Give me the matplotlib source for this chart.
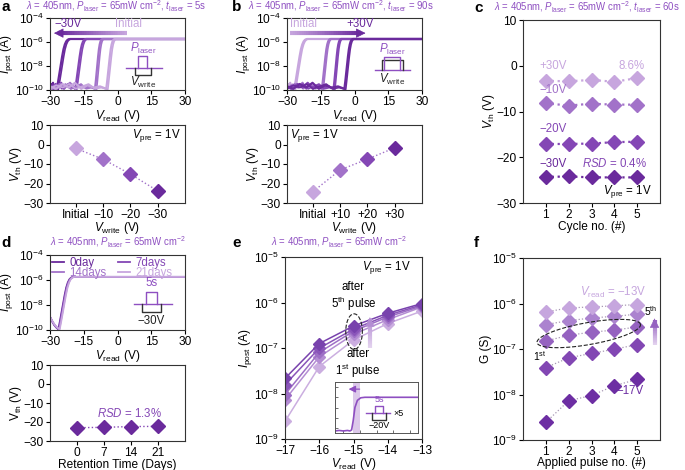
import numpy as np
import matplotlib
matplotlib.use('Agg')
import matplotlib.pyplot as plt
from matplotlib.collections import LineCollection
from matplotlib.colors import LinearSegmentedColormap
from matplotlib.ticker import NullLocator

plt.rcParams['font.family'] = ['Liberation Sans', 'DejaVu Sans']
plt.rcParams['mathtext.fontset'] = 'custom'
plt.rcParams['mathtext.rm'] = 'Liberation Sans'
plt.rcParams['mathtext.it'] = 'Liberation Sans:italic'
plt.rcParams['mathtext.bf'] = 'Liberation Sans:bold'

# colours, dark -> light
purples = ['#6a2a9c', '#8447b5', '#a272c9', '#c7a6de']
title_color = '#8e4fc1'
FS = 8.6    # tick / axis label size
FA = 8.3    # annotation size

# ---- data ----
# transfer curve shape (fraction of rise width, log10 current)
rise_dv = [0, 0.1, 0.2, 0.3, 0.4, 0.5, 0.6, 0.7, 0.8, 0.9, 1.0]
rise_logi = [-10.0, -9.3, -8.6, -7.9, -7.2, -6.6, -6.2, -5.95, -5.82, -5.76, -5.75]
floor_1 = [-9.7, -9.9, -9.5, -9.8, -9.4, -9.9, -9.6, -9.8, -9.7, -9.9]
floor_2 = [-9.9, -9.6, -9.8, -9.5, -9.9, -9.7, -9.5, -9.9, -9.8, -9.95]
floor_d = [-8.95, -9.3, -9.6, -9.8, -9.95]

# a: -30V, -20V, -10V, Initial
a_onsets = [-27.0, -18.8, -10.0, -5.0]
a_widths = [6.0, 5.0, 3.5, 4.0]
a_cats = ['Initial', '\u221210', '\u221220', '\u221230']
a_vth = [-2.0, -7.6, -15.2, -23.8]

# b: Initial, +10, +20, +30
b_onsets = [-26.8, -14.5, -9.3, -4.5]
b_widths = [6.0, 4.0, 3.5, 4.0]
b_cats = ['Initial', '+10', '+20', '+30']
b_vth = [-24.2, -13.0, -7.5, -1.7]

# c
c_cycles = [1, 2, 3, 4, 5]
c_p30 = [-3.3, -3.4, -3.1, -3.5, -2.7]
c_m10 = [-8.2, -8.7, -8.3, -8.5, -8.5]
c_m20 = [-17.1, -17.1, -17.0, -16.7, -16.6]
c_m30 = [-24.3, -24.2, -24.4, -24.4, -24.4]

# d
d_labels = ['0day', '7days', '14days', '21days']
d_onsets = [-26.3, -26.1, -25.9, -25.7]
d_days = [0, 7, 14, 21]
d_vth = [-23.0, -22.8, -22.4, -22.3]

# e / f : conductance (S) per Vread, pulses 1..5
vread = [-17, -16, -15, -14, -13]
pulses = [1, 2, 3, 4, 5]
g_m17 = [2.45e-9, 7.3e-9, 9.5e-9, 1.56e-8, 2.15e-8]
g_m16 = [3.9e-8, 6.4e-8, 8.0e-8, 9.9e-8, 1.25e-7]
g_m15 = [1.5e-7, 2.0e-7, 2.35e-7, 2.6e-7, 3.05e-7]
g_m14 = [3.45e-7, 4.2e-7, 4.8e-7, 5.25e-7, 5.8e-7]
g_m13 = [6.5e-7, 8.0e-7, 8.4e-7, 8.9e-7, 9.5e-7]

W, H = 685, 470
fig = plt.figure(figsize=(W / 100, H / 100), dpi=100)


def box(x0, x1, y0, y1):
    ax = fig.add_axes([x0 / W, 1 - y1 / H, (x1 - x0) / W, (y1 - y0) / H])
    for s in ax.spines.values():
        s.set_color('#333333')
        s.set_linewidth(0.8)
    ax.tick_params(direction='out', length=3, width=0.8, labelsize=FS, pad=1.5)
    return ax


def transfer(onset, width, floor):
    v_off = np.linspace(-30, onset, len(floor))
    v_on = onset + width * np.array(rise_dv[1:])
    v = np.concatenate([v_off, v_on, [30]])
    logi = np.concatenate([floor, rise_logi[1:], [rise_logi[-1]]])
    return v, 10 ** logi


def grad_arrow(ax, x0, y0, x1, y1, c0, c1, lw=3.0):
    n = 40
    t = np.linspace(0, 1, n + 1)
    xs = x0 + (x1 - x0) * t
    ys = y0 + (y1 - y0) * t
    segs = [[(xs[i], ys[i]), (xs[i + 1], ys[i + 1])] for i in range(n)]
    cmap = LinearSegmentedColormap.from_list('g', [c0, c1])
    lc = LineCollection(segs, colors=cmap(np.linspace(0, 1, n)), linewidths=lw,
                        transform=ax.transAxes, capstyle='butt')
    ax.add_collection(lc)
    ax.annotate('', xy=(x1 + (x1 - x0) * 0.06, y1 + (y1 - y0) * 0.06), xytext=(x1, y1),
                xycoords='axes fraction', textcoords='axes fraction',
                arrowprops=dict(arrowstyle='-|>,head_width=0.3,head_length=0.6',
                                color=c1, lw=0.5, shrinkA=0, shrinkB=0))


def pulse(ax, x0, x1, yb, up, dn, ytop, ybot):
    ax.plot([x0, x1], [yb, yb], color=title_color, lw=1.0, transform=ax.transAxes)
    ax.plot([up[0], up[0], up[1], up[1]], [yb, ytop, ytop, yb], color=title_color,
            lw=1.0, transform=ax.transAxes)
    ax.plot([dn[0], dn[0], dn[1], dn[1]], [yb, ybot, ybot, yb], color='#333333',
            lw=1.0, transform=ax.transAxes)


def ellipse(ax, cx, cy, a, b, ang, wpx, hpx):
    t = np.linspace(0, 2 * np.pi, 200)
    th = np.deg2rad(ang)
    px = a * np.cos(t) * np.cos(th) - b * np.sin(t) * np.sin(th)
    py = a * np.cos(t) * np.sin(th) + b * np.sin(t) * np.cos(th)
    ax.plot(cx + px / wpx, cy + py / hpx, '--', color='#222222', lw=0.8,
            transform=ax.transAxes)


def ititle(x, y, text):
    fig.text(x / W, 1 - y / H, text, color=title_color, fontsize=6.9, ha='center', va='center')


def plabel(x, y, s):
    fig.text(x / W, 1 - y / H, s, fontsize=11, fontweight='bold', ha='left', va='center')


def log_panel(ax):
    ax.set_yscale('log')
    ax.set_ylim(1e-10, 1e-4)
    ax.set_xlim(-30, 30)
    ax.set_yticks([1e-10, 1e-8, 1e-6, 1e-4])
    ax.yaxis.set_minor_locator(NullLocator())
    ax.set_xticks([-30, -15, 0, 15, 30])
    ax.set_xlabel(r'$V_{\rm read}$ (V)', fontsize=FS, labelpad=-0.5)
    ax.set_ylabel(r'$I_{\rm post}$ (A)', fontsize=FS, labelpad=0)


# ---------------- a ----------------
ax = box(50, 185, 18, 90)
for i in range(4):
    v, cur = transfer(a_onsets[i], a_widths[i], floor_1)
    ax.plot(v, cur, color=purples[i], lw=1.6)
    v, cur = transfer(a_onsets[i] + 0.7, a_widths[i], floor_2)
    ax.plot(v, cur, color=purples[i], lw=1.2)
log_panel(ax)
grad_arrow(ax, 0.57, 0.79, 0.06, 0.79, purples[3], purples[0])
ax.text(0.03, 0.91, '\u221230V', color=purples[0], fontsize=FA, transform=ax.transAxes, va='center')
ax.text(0.48, 0.91, 'Initial', color=purples[3], fontsize=FA, transform=ax.transAxes, va='center')
pulse(ax, 0.56, 0.83, 0.31, (0.65, 0.72), (0.63, 0.75), 0.47, 0.21)
ax.text(0.69, 0.58, r'$P_{\rm laser}$', color=title_color, fontsize=FA, ha='center',
        va='center', transform=ax.transAxes)
ax.text(0.69, 0.1, r'$V_{\rm write}$', color='#222222', fontsize=FA, ha='center',
        va='center', transform=ax.transAxes)
ititle(116, 6, r'$\lambda$ = 405nm, $P_{\rm laser}$ = 65mW cm$^{-2}$, $t_{\rm laser}$ = 5s')
plabel(1, 7, 'a')

ax = box(50, 185, 125, 203)
xa = np.arange(len(a_cats))
ax.plot(xa, a_vth, ':', color=purples[2], lw=1.0)
for i in range(4):
    ax.plot(xa[i], a_vth[i], 'D', color=purples[3 - i], ms=7)
ax.set_xlim(-0.95, 4.0)
ax.set_ylim(-30, 10)
ax.set_yticks([-30, -20, -10, 0, 10])
ax.set_xticks(xa)
ax.set_xticklabels(a_cats)
ax.set_xlabel(r'$V_{\rm write}$ (V)', fontsize=FS, labelpad=-1)
ax.set_ylabel(r'$V_{\rm th}$ (V)', fontsize=FS, labelpad=0)
ax.text(0.79, 0.87, r'$V_{\rm pre}$ = 1V', fontsize=FA, ha='center', va='center', transform=ax.transAxes)

# ---------------- b ----------------
ax = box(287, 422, 18, 90)
for i in range(4):
    v, cur = transfer(b_onsets[i], b_widths[i], floor_1)
    ax.plot(v, cur, color=purples[3 - i], lw=1.6)
    v, cur = transfer(b_onsets[i] + 0.6, b_widths[i], floor_2)
    ax.plot(v, cur, color=purples[3 - i], lw=1.2)
log_panel(ax)
grad_arrow(ax, 0.02, 0.79, 0.55, 0.79, purples[3], purples[0])
ax.text(0.02, 0.91, 'Initial', color=purples[3], fontsize=FA, transform=ax.transAxes, va='center')
ax.text(0.44, 0.91, '+30V', color=purples[0], fontsize=FA, transform=ax.transAxes, va='center')
ax.plot([0.65, 0.91], [0.28, 0.28], color=title_color, lw=1.0, transform=ax.transAxes)
ax.plot([0.70, 0.70, 0.86, 0.86], [0.28, 0.42, 0.42, 0.28], color='#333333', lw=1.0, transform=ax.transAxes)
ax.plot([0.72, 0.72, 0.84, 0.84], [0.28, 0.46, 0.46, 0.28], color=title_color, lw=1.0, transform=ax.transAxes)
ax.text(0.78, 0.57, r'$P_{\rm laser}$', color=title_color, fontsize=FA, ha='center',
        va='center', transform=ax.transAxes)
ax.text(0.78, 0.14, r'$V_{\rm write}$', color='#222222', fontsize=FA, ha='center',
        va='center', transform=ax.transAxes)
ititle(341, 6, r'$\lambda$ = 405nm, $P_{\rm laser}$ = 65mW cm$^{-2}$, $t_{\rm laser}$ = 90s')
plabel(232, 7, 'b')

ax = box(287, 422, 125, 203)
xb = np.arange(len(b_cats))
ax.plot(xb, b_vth, ':', color=purples[2], lw=1.0)
for i in range(4):
    ax.plot(xb[i], b_vth[i], 'D', color=purples[3 - i], ms=7)
ax.set_xlim(-0.95, 4.0)
ax.set_ylim(-30, 10)
ax.set_yticks([-30, -20, -10, 0, 10])
ax.set_xticks(xb)
ax.set_xticklabels(b_cats)
ax.set_xlabel(r'$V_{\rm write}$ (V)', fontsize=FS, labelpad=-1)
ax.set_ylabel(r'$V_{\rm th}$ (V)', fontsize=FS, labelpad=0)
ax.text(0.2, 0.87, r'$V_{\rm pre}$ = 1V', fontsize=FA, ha='center', va='center', transform=ax.transAxes)

# ---------------- c ----------------
ax = box(523, 660, 20, 203)
for ys, col in [(c_p30, purples[3]), (c_m10, purples[2]), (c_m20, purples[1]), (c_m30, purples[0])]:
    ax.plot(c_cycles, ys, ':', color=col, lw=1.6)
    ax.plot(c_cycles, ys, 'D', color=col, ms=7)
ax.set_xlim(0, 6)
ax.set_ylim(-30, 10)
ax.set_yticks([-30, -20, -10, 0, 10])
ax.set_xticks(c_cycles)
ax.set_xlabel('Cycle no. (#)', fontsize=FS, labelpad=-0.5)
ax.set_ylabel(r'$V_{\rm th}$ (V)', fontsize=FS, labelpad=0)
ax.text(1.3, 0.0, '+30V', color=purples[3], fontsize=FA, ha='center', va='center')
ax.text(4.75, 0.0, '8.6%', color=purples[3], fontsize=FA, ha='center', va='center')
ax.text(1.3, -5.4, '\u221210V', color=purples[2], fontsize=FA, ha='center', va='center')
ax.text(1.3, -13.8, '\u221220V', color=purples[1], fontsize=FA, ha='center', va='center')
ax.text(1.3, -21.4, '\u221230V', color=purples[0], fontsize=FA, ha='center', va='center')
ax.text(4.0, -21.4, r'$RSD$ = 0.4%', color=purples[1], fontsize=FA, ha='center', va='center')
ax.text(4.55, -27.5, r'$V_{\rm pre}$ = 1V', fontsize=FA, ha='center', va='center')
ititle(587, 7, r'$\lambda$ = 405nm, $P_{\rm laser}$ = 65mW cm$^{-2}$, $t_{\rm laser}$ = 60s')
plabel(474, 8, 'c')

# ---------------- d ----------------
ax = box(50, 185, 255, 330)
lines = []
for i in range(4):
    v, cur = transfer(d_onsets[i], 7.0, floor_d)
    ln, = ax.plot(v, cur, color=purples[i], lw=1.3, label=d_labels[i])
    lines.append(ln)
log_panel(ax)
# order so that rows read 0day/7days, 14days/21days
ax.legend([lines[0], lines[2], lines[1], lines[3]],
          [d_labels[0], d_labels[2], d_labels[1], d_labels[3]],
          loc='upper left', ncol=2, frameon=False, fontsize=FA, labelcolor='linecolor',
          handlelength=1.0, handletextpad=0.5, columnspacing=1.0, labelspacing=-0.2,
          borderpad=0.2, borderaxespad=0.0, bbox_to_anchor=(0.0, 1.0))
pulse(ax, 0.62, 0.9, 0.35, (0.71, 0.79), (0.68, 0.82), 0.51, 0.24)
ax.text(0.75, 0.62, '5s', color=title_color, fontsize=FA, ha='center', va='center', transform=ax.transAxes)
ax.text(0.75, 0.12, '\u221230V', color='#222222', fontsize=FA, ha='center', va='center', transform=ax.transAxes)
ititle(118, 242, r'$\lambda$ = 405nm, $P_{\rm laser}$ = 65mW cm$^{-2}$')
plabel(1, 243, 'd')

ax = box(50, 185, 365, 441)
ax.plot(d_days, d_vth, ':', color=purples[1], lw=1.0)
ax.plot(d_days, d_vth, 'D', color=purples[0], ms=7)
ax.set_xlim(-7, 28)
ax.set_ylim(-30, 10)
ax.set_yticks([-30, -20, -10, 0, 10])
ax.set_xticks(d_days)
ax.set_xlabel('Retention Time (Days)', fontsize=FS, labelpad=-0.5)
ax.set_ylabel(r'V$_{\rm th}$ (V)', fontsize=FS, labelpad=0)
ax.text(0.59, 0.36, r'$RSD$ = 1.3%', color=purples[1], fontsize=FA, ha='center', va='center',
        transform=ax.transAxes)

# ---------------- e ----------------
g_all = np.array([g_m17, g_m16, g_m15, g_m14, g_m13])
e_cols = ['#cbaee0', '#b48dd3', '#9e6fc6', '#8a55b9', '#7842ad']
ax = box(285, 422, 257, 439)
for p in range(5):
    ax.plot(vread, g_all[:, p], '-', color=e_cols[p], lw=1.1)
    ax.plot(vread, g_all[:, p], 'D', color=e_cols[p], ms=6.5)
ax.set_yscale('log')
ax.set_ylim(1e-9, 1e-5)
ax.set_xlim(-17, -13)
ax.yaxis.set_minor_locator(NullLocator())
ax.set_xticks(vread)
ax.set_xlabel(r'$V_{\rm read}$ (V)', fontsize=FS, labelpad=-1)
ax.set_ylabel(r'$I_{\rm post}$ (A)', fontsize=FS, labelpad=0)
ax.text(0.74, 0.94, r'$V_{\rm pre}$ = 1V', fontsize=FA, ha='center', va='center', transform=ax.transAxes)
ax.text(0.5, 0.78, 'after\n5$^{\\rm th}$ pulse', fontsize=FA, ha='center', va='center',
        transform=ax.transAxes, linespacing=1.15)
ax.text(0.53, 0.41, 'after\n1$^{\\rm st}$ pulse', fontsize=FA, ha='center', va='center',
        transform=ax.transAxes, linespacing=1.15)
ellipse(ax, 0.504, 0.59, 8.3, 17.8, 0, 137, 182)
grad_arrow(ax, 0.62, 0.50, 0.62, 0.66, '#e4d4ef', '#b48dd3', lw=3.0)
ititle(339, 242, r'$\lambda$ = 405nm, $P_{\rm laser}$ = 65mW cm$^{-2}$')
plabel(232, 243, 'e')

# inset of e
ins = fig.add_axes([335 / W, 1 - 433 / H, 83 / W, 51 / H])
ins.set_xlim(0, 1)
ins.set_ylim(0, 1)
ins.set_xticks([0.1, 0.3, 0.5, 0.7, 0.9])
ins.set_yticks([0.1, 0.3, 0.5, 0.7, 0.9])
ins.tick_params(direction='in', length=2, width=0.6, labelbottom=False, labelleft=False, colors='#555555')
for s in ins.spines.values():
    s.set_color('#555555')
    s.set_linewidth(0.7)
ins.axvspan(0.22, 0.30, color='#dcc8ea', lw=0)
ins.plot([0.0, 0.05, 0.1, 0.15, 0.18, 0.2, 0.22, 0.24, 0.27, 0.31, 0.36, 1.0],
         [0.04, 0.05, 0.04, 0.05, 0.04, 0.06, 0.25, 0.5, 0.64, 0.69, 0.7, 0.7], color=title_color, lw=1.2)
ins.annotate('', xy=(0.13, 0.86), xytext=(0.33, 0.86),
             arrowprops=dict(arrowstyle='-|>,head_width=0.2,head_length=0.4', color=title_color, lw=0.9))
pulse(ins, 0.37, 0.66, 0.39, (0.48, 0.58), (0.45, 0.62), 0.53, 0.26)
ins.text(0.53, 0.66, '5s', color=title_color, fontsize=6.5, ha='center', va='center')
ins.text(0.53, 0.15, '\u221220V', fontsize=6.5, ha='center', va='center')
ins.text(0.77, 0.38, '\u00d75', fontsize=6.5, ha='center', va='center')

# ---------------- f ----------------
f_cols = ['#6d2ea3', '#8247b3', '#9562c0', '#ab83cf', '#c6a6de']
ax = box(523, 660, 258, 440)
for k, g in enumerate([g_m17, g_m16, g_m15, g_m14, g_m13]):
    ax.plot(pulses, g, ':', color='#a898b4', lw=0.9)
    ax.plot(pulses, g, 'D', color=f_cols[k], ms=7)
ax.set_yscale('log')
ax.set_ylim(1e-9, 1e-5)
ax.set_xlim(0, 6)
ax.yaxis.set_minor_locator(NullLocator())
ax.set_xticks(pulses)
ax.set_xlabel('Applied pulse no. (#)', fontsize=FS, labelpad=-1)
ax.set_ylabel('G (S)', fontsize=FS, labelpad=0)
ax.text(0.66, 0.81, r'$V_{\rm read}$ = ' + '\u221213V', color=f_cols[4],
        fontsize=FA, ha='center', va='center', transform=ax.transAxes)
ax.text(0.78, 0.27, '\u221217V', color=f_cols[0], fontsize=FA, ha='center', va='center',
        transform=ax.transAxes)
ax.text(0.12, 0.46, '1$^{\\rm st}$', fontsize=7.5, ha='center', va='center', transform=ax.transAxes)
ax.text(0.93, 0.71, '5$^{\\rm th}$', fontsize=7.5, ha='center', va='center', transform=ax.transAxes)
ellipse(ax, 0.48, 0.585, 52.5, 11, 10, 137, 182)
grad_arrow(ax, 0.96, 0.52, 0.96, 0.66, '#e4d4ef', '#9562c0', lw=3.0)
plabel(474, 243, 'f')

fig.savefig('out.png', dpi=100)
